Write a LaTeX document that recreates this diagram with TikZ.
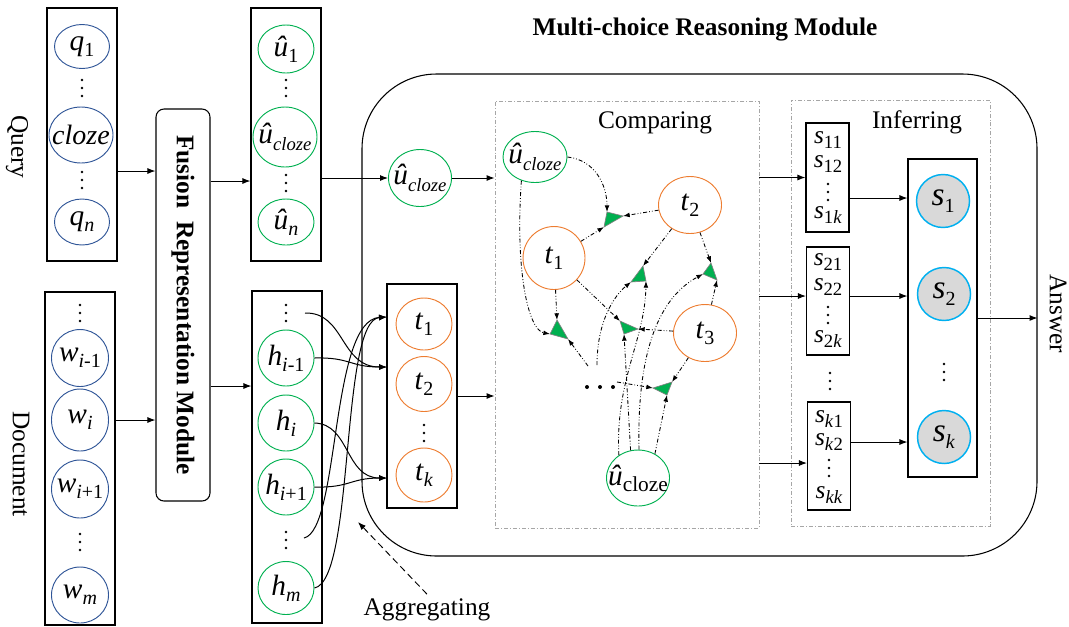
\documentclass[tikz,border=0pt]{standalone}
\usepackage{fontspec}
\setmainfont{Liberation Serif}
\usetikzlibrary{arrows.meta,shapes.geometric,calc}
\definecolor{qblue}{HTML}{2F5597}
\definecolor{ugreen}{HTML}{00B050}
\definecolor{torange}{HTML}{ED7D31}
\definecolor{sblue}{HTML}{00B0F0}
\definecolor{sgray}{HTML}{D9D9D9}
\definecolor{boxgray}{HTML}{A6A6A6}
\def\pxu{0.75pt}
\newcommand\sbs[1]{\raisebox{-0.2em}{\fontsize{15}{15}\selectfont #1}}
\newcommand\ssb[1]{\raisebox{-0.22em}{\fontsize{14}{14}\selectfont #1}}
\newcommand\lb{\fontsize{19}{22}\selectfont}
\newcommand\ehat{\textit{û}}
\newcommand\vdt[3]{\node[inner sep=0pt, minimum size=3pt] (#1) at (#2,#3) {};
  \fill ($(#1)+(0,-8)$) circle (1.1pt); \fill (#1) circle (1.1pt); \fill ($(#1)+(0,8)$) circle (1.1pt);}
\begin{document}
\begin{tikzpicture}[x=0.75pt,y=-0.75pt,
  every node/.style={font=\lb},
  every label/.style={font=\fontsize{22}{24}\selectfont, inner sep=0pt},
  colbox/.style={draw, line width=0.8pt, rectangle, inner sep=0pt},
  qc/.style={ellipse, draw=qblue, line width=0.7pt, inner sep=0pt},
  uc/.style={ellipse, draw=ugreen, line width=0.7pt, inner sep=0pt},
  tc/.style={ellipse, draw=torange, line width=0.7pt, inner sep=0pt},
  sc/.style={circle, draw=sblue, fill=sgray, line width=1.1pt, inner sep=0pt, minimum size=53*0.75pt},
  esz/.style 2 args={minimum width=#1*0.75pt, minimum height=#2*0.75pt},
  arr/.style={-{Latex[length=6pt,width=4.5pt]}, line width=0.75pt},
  cmparr/.style={dash pattern=on 3pt off 1.5pt on 0.6pt off 1.5pt on 0.6pt off 1.5pt, line width=0.65pt, -{Latex[length=5pt,width=3.6pt]}},
  aggarr/.style={dash pattern=on 5pt off 3pt, line width=0.7pt, -{Latex[length=6pt,width=4.5pt]}},
  tri/.style={fill=ugreen, draw=gray, line width=0.5pt},
  regbox/.style={draw=boxgray, dash pattern=on 3pt off 1.5pt on 0.7pt off 1.5pt, line width=0.6pt, inner sep=0pt},
  bigmod/.style={draw, line width=0.8pt, rounded corners=56pt, inner sep=0pt}
]
\useasboundingbox (0,0) rectangle (1069,626);

% big module
\node[bigmod, esz={675}{482}] (mrm) at (699.5,315) {};
\node[font=\lb\bfseries] (title) at (705,30) {Multi-choice Reasoning Module};

% query column
\node[colbox, esz={70}{253}] (qbox) at (82,134.5) {};
\node[qc, esz={55}{44}, label=center:{\textit{q}\sbs{1}}] (q1) at (82,46.5) {};
\vdt{qd1}{82}{88}
\node[qc, esz={64}{56}, label=center:{\fontsize{21}{22}\selectfont\textit{cloze}}] (qcl) at (81,135) {};
\vdt{qd2}{82}{180}
\node[qc, esz={55}{46}, label=center:{\textit{q}\sbs{\textit{n}}}] (qn) at (82,222) {};
\node[rotate=-90] (qlab) at (17,147) {Query};

% document column
\node[colbox, esz={70}{333}] (dbox) at (80,458.5) {};
\vdt{dv1}{80}{313}
\node[qc, esz={57}{57}, label=center:{\textit{w}\sbs{\textit{i}-1}}] (wim) at (80,358) {};
\node[qc, esz={57}{62}, label=center:{\textit{w}\sbs{\textit{i}}}] (wi) at (80,420) {};
\node[qc, esz={57}{58}, label=center:{\textit{w}\sbs{\textit{i}+1}}] (wip) at (80,489) {};
\vdt{dv2}{80}{542}
\node[qc, esz={57}{56}, label=center:{\textit{w}\sbs{\textit{m}}}] (wm) at (80,595) {};
\node[rotate=-90] (dlab) at (21,464) {Document};

% fusion module
\node[draw, line width=0.8pt, rounded corners=6pt, inner sep=0pt, esz={54}{392}] (fus) at (183,305) {};
\node[rotate=-90, font=\lb\bfseries] (fusl) at (183,305) {Fusion\ \ Representation Module};

% u column
\node[colbox, esz={70}{253}] (ubox) at (286,134.5) {};
\node[uc, esz={56}{48}, label=center:{\ehat\sbs{1}}] (u1) at (286,49) {};
\vdt{ud1}{286}{88}
\node[uc, esz={64}{60}, label=center:{\ehat\ssb{\textit{cloze}}}] (ucl) at (285,137) {};
\vdt{ud2}{286}{183}
\node[uc, esz={56}{46}, label=center:{\ehat\sbs{\textit{n}}}] (un) at (286,222) {};

% h column
\node[colbox, esz={70}{332}] (hbox) at (287,457) {};
\vdt{hd1}{286}{313}
\node[uc, esz={56}{56}, label=center:{\textit{h}\sbs{\textit{i}-1}}] (him) at (286,358) {};
\node[uc, esz={56}{56}, label=center:{\textit{h}\sbs{\textit{i}}}] (hi) at (286,423) {};
\node[uc, esz={56}{56}, label=center:{\textit{h}\sbs{\textit{i}+1}}] (hip) at (286,487) {};
\vdt{hd2}{286}{540}
\node[uc, esz={56}{53}, label=center:{\textit{h}\sbs{\textit{m}}}] (hm) at (286,588) {};

% t column
\node[colbox, esz={70}{224}] (tbox) at (422,396) {};
\node[tc, esz={56}{52}, label=center:{\textit{t}\sbs{1}}] (t1) at (424,324) {};
\node[tc, esz={56}{55}, label=center:{\textit{t}\sbs{2}}] (t2) at (424,384) {};
\vdt{td}{424}{433}
\node[tc, esz={56}{54}, label=center:{\textit{t}\sbs{\textit{k}}}] (tk) at (424,475) {};

% u_cloze in module
\node[uc, esz={63}{57}, label=center:{\ehat\ssb{\textit{cloze}}}] (ucm) at (420,178) {};

% regions
\node[regbox, esz={264}{427}] (cmp) at (627,314.5) {};
\node (cmpl) at (655,123) {Comparing};
\node[regbox, esz={199}{426}] (inf) at (890.5,313) {};
\node (infl) at (917,122) {Inferring};

% comparing nodes
\node[uc, esz={64}{51}, label=center:{\ehat\ssb{\textit{cloze}}}] (uct) at (535,157) {};
\node[tc, esz={62}{63}, label=center:{\textit{t}\sbs{1}}] (t1c) at (554,258) {};
\node[tc, esz={63}{57}, label=center:{\textit{t}\sbs{2}}] (t2c) at (690,205) {};
\node[tc, esz={63}{57}, label=center:{\textit{t}\sbs{3}}] (t3c) at (705,333) {};
\node[uc, esz={63}{56}, label=center:{\ehat\raisebox{-0.2em}{\fontsize{16}{16}\selectfont cloze}}] (ucb) at (638,478) {};
\node[minimum size=4pt, inner sep=0pt] (cdots) at (600,387) {};
\fill (cdots) circle (1.5pt);
\fill ($(cdots)+(-13,0)$) circle (1.5pt);
\fill ($(cdots)+(13,0)$) circle (1.5pt);
\coordinate (cd1) at (588,366);
\coordinate (cd2) at (597,365);
\coordinate (cd3) at (617,382);

% triangle vertices
\coordinate (T1a) at (607,212); \coordinate (T1b) at (623,216); \coordinate (T1c) at (604,227);
\coordinate (T2t) at (643,266); \coordinate (T2l) at (631,282); \coordinate (T2r) at (646,281);
\coordinate (T3t) at (711,263); \coordinate (T3l) at (703,274); \coordinate (T3b) at (717,280);
\coordinate (T4t) at (557,320); \coordinate (T4l) at (550,334); \coordinate (T4r) at (568,339);
\coordinate (T5l) at (620,321); \coordinate (T5r) at (638,329); \coordinate (T5b) at (624,334);
\coordinate (T6l) at (653,388); \coordinate (T6t) at (672,382); \coordinate (T6b) at (667,395);

% comparing connectors
\draw[cmparr] (uct.east) .. controls (595,160) and (607,185) .. (T1a);
\draw[cmparr] (t2c) -- (T1b);
\draw[cmparr] (t1c) -- (T1c);
\draw[cmparr] (uct.240) .. controls (515,270) and (528,330) .. (T4l);
\draw[cmparr] (t1c) -- (T4t);
\draw[cmparr] (cd1) -- (T4r);
\draw[cmparr] (t1c) -- (T5l);
\draw[cmparr] (t3c) -- (T5r);
\draw[cmparr] (ucb.105) -- (T5b);
\draw[cmparr] (t2c) -- (T2t);
\draw[cmparr] (cd2) .. controls (597,320) and (615,295) .. (T2l);
\draw[cmparr] (ucb.130) .. controls (615,380) and (645,340) .. (T2r);
\draw[cmparr] (t2c) -- (T3t);
\draw[cmparr] (t3c) -- (T3b);
\draw[cmparr] (ucb.88) .. controls (637,360) and (655,300) .. (T3l);
\draw[cmparr] (cd3) -- (T6l);
\draw[cmparr] (t3c) -- (T6t);
\draw[cmparr] (ucb.55) -- (T6b);

\filldraw[tri] (T1a) -- (T1b) -- (T1c) -- cycle;
\filldraw[tri] (T2t) -- (T2l) -- (T2r) -- cycle;
\filldraw[tri] (T3t) -- (T3l) -- (T3b) -- cycle;
\filldraw[tri] (T4t) -- (T4l) -- (T4r) -- cycle;
\filldraw[tri] (T5l) -- (T5r) -- (T5b) -- cycle;
\filldraw[tri] (T6l) -- (T6t) -- (T6b) -- cycle;

% s boxes
\node[colbox, esz={43}{109}] (sb1) at (827.5,177.5) {};
\node[anchor=base, inner sep=0pt] (s11) at (828,143) {\textit{s}\ssb{11}};
\node[anchor=base, inner sep=0pt] (s12) at (828,167) {\textit{s}\ssb{12}};
\vdt{s1d}{828}{192}
\node[anchor=base, inner sep=0pt] (s1k) at (828,218) {\textit{s}\ssb{1\textit{k}}};
\node[colbox, esz={43}{108}] (sb2) at (828,301) {};
\node[anchor=base, inner sep=0pt] (s21) at (828,265) {\textit{s}\ssb{21}};
\node[anchor=base, inner sep=0pt] (s22) at (828,290) {\textit{s}\ssb{22}};
\vdt{s2d}{828}{315}
\node[anchor=base, inner sep=0pt] (s2k) at (828,342) {\textit{s}\ssb{2\textit{k}}};
\vdt{sbd}{830}{381}
\node[colbox, esz={43}{108}] (sbk) at (829,456) {};
\node[anchor=base, inner sep=0pt] (sk1) at (829,422) {\textit{s}\ssb{\textit{k}1}};
\node[anchor=base, inner sep=0pt] (sk2) at (829,445) {\textit{s}\ssb{\textit{k}2}};
\vdt{skd}{829}{468}
\node[anchor=base, inner sep=0pt] (skk) at (829,498) {\textit{s}\ssb{\textit{kk}}};

% S box
\node[colbox, esz={69}{318}] (SB) at (942.5,318) {};
\node[sc, label=center:{\fontsize{25}{25}\selectfont\textit{s}\sbs{1}}] (s1c) at (943,201) {};
\node[sc, label=center:{\fontsize{25}{25}\selectfont\textit{s}\sbs{2}}] (s2c) at (944,294) {};
\vdt{Sd}{944}{372}
\node[sc, label=center:{\fontsize{25}{25}\selectfont\textit{s}\sbs{\textit{k}}}] (skc) at (944,437) {};
\node[rotate=-90, inner sep=0pt] (ans) at (1058,314) {Answer};

% main arrows
\draw[arr] ($(qbox.east)+(0,36.5)$) coordinate (qo) -- (fus.west |- qo);
\draw[arr] (dbox.east |- wi) -- (fus.west |- wi);
\draw[arr] ($(fus.east |- ucm)+(0,3)$) coordinate (fo1) -- (ubox.west |- fo1);
\draw[arr] ($(fus.east)+(0,81)$) coordinate (fo2) -- (hbox.west |- fo2);
\draw[arr] (ubox.east |- ucm) -- (ucm.west);
\draw[arr] (ucm.east) -- (cmp.west |- ucm);
\draw[arr] (tbox.east) -- (cmp.west |- tbox.east);
\draw[arr] (cmp.east |- sb1) -- (sb1.west);
\draw[arr] ($(cmp.east |- sb2)+(0,-5)$) coordinate (c2) -- (sb2.west |- c2);
\draw[arr] ($(cmp.east |- sbk)+(0,7)$) coordinate (c3) -- (sbk.west |- c3);
\draw[arr] ($(sb1.east)+(0,20.5)$) coordinate (o1) -- (SB.west |- o1);
\draw[arr] ($(sb2.east)+(0,-5)$) coordinate (o2) -- (SB.west |- o2);
\draw[arr] ($(sbk.east)+(0,-14)$) coordinate (o3) -- (SB.west |- o3);
\draw[arr] (SB.east) -- (mrm.east |- SB.east);

% aggregating
\coordinate (a1) at (387,317);
\coordinate (a2) at (387,367);
\coordinate (a3) at (387,478);
\coordinate (hs1) at (305,313);
\coordinate (hs2) at (304,538);
\draw[arr] (hs1) .. controls (345,312) and (340,367) .. (a2);
\draw[arr] (him.east) .. controls (350,357) and (350,367) .. (a2);
\draw[arr] (hi.east) .. controls (350,424) and (345,478) .. (a3);
\draw[arr] (hip.east) .. controls (350,488) and (350,478) .. (a3);
\draw[arr] (hs2) .. controls (340,530) and (330,320) .. (a1);
\draw[arr] (hm.east) .. controls (355,580) and (340,320) .. (a1);
\node (agg) at (427,610) {Aggregating};
\coordinate (aggt) at (358,522);
\draw[aggarr] (agg.north) -- (aggt);
\end{tikzpicture}
\end{document}
